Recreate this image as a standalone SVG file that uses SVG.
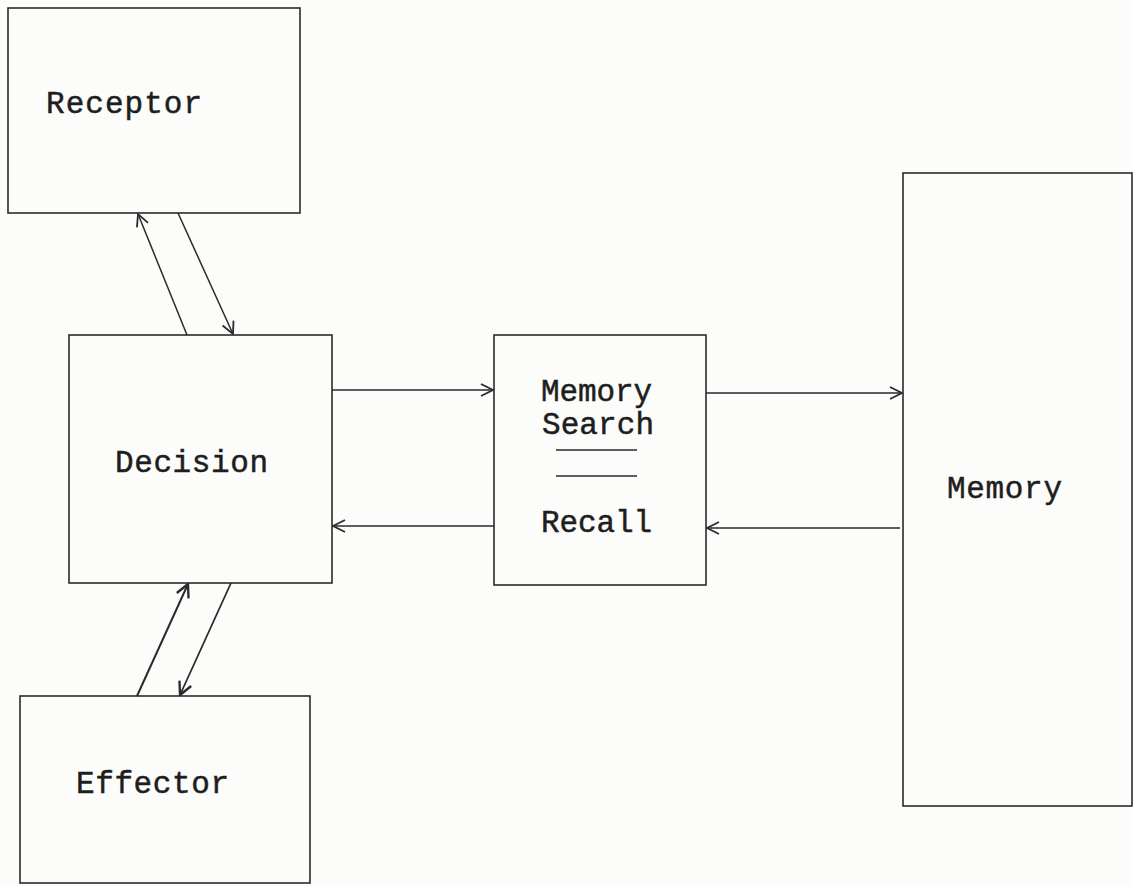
<svg xmlns="http://www.w3.org/2000/svg" width="1133" height="886" viewBox="0 0 1133 886">
<style>
.box{fill:none;stroke:#2a2a2a;stroke-width:1.6}
.lbl{font-family:"Liberation Mono","DejaVu Sans Mono",monospace;font-size:31px;fill:#1e1e1e;stroke:#1e1e1e;stroke-width:0.5}
.con{stroke:#2a2a2a;stroke-width:1.5;fill:none}
</style>
<defs>
<marker id="ah" viewBox="0 0 14 14" refX="13" refY="7" markerWidth="14" markerHeight="14" markerUnits="userSpaceOnUse" orient="auto">
<path d="M1,1 L13,7 L1,13" fill="none" stroke="#2a2a2a" stroke-width="1.8"/>
</marker>
<marker id="ahb" viewBox="0 0 14 14" refX="13" refY="7" markerWidth="15" markerHeight="15" markerUnits="userSpaceOnUse" orient="auto">
<path d="M1,1 L13,7 L1,13" fill="none" stroke="#2a2a2a" stroke-width="2.2"/>
</marker>
</defs>
<rect width="1133" height="886" fill="#fcfcfa"/>
<g id="receptor">
<rect class="box" x="8" y="8" width="292" height="205"/>
<text class="lbl" x="46" y="113" textLength="156">Receptor</text>
</g>
<g id="decision">
<rect class="box" x="69" y="335" width="263" height="248"/>
<text class="lbl" x="115" y="472" textLength="153">Decision</text>
</g>
<g id="memory-search">
<rect class="box" x="494" y="335" width="212" height="250"/>
<text class="lbl" x="541" y="401" textLength="111">Memory</text>
<text class="lbl" x="542" y="434" textLength="112">Search</text>
<line class="con" x1="556" y1="450" x2="637" y2="450"/>
<line class="con" x1="556" y1="476" x2="637" y2="476"/>
<text class="lbl" x="541" y="532" textLength="111">Recall</text>
</g>
<g id="memory">
<rect class="box" x="903" y="173" width="229" height="633"/>
<text class="lbl" x="947" y="498" textLength="115">Memory</text>
</g>
<g id="effector">
<rect class="box" x="20" y="696" width="290" height="187"/>
<text class="lbl" x="76" y="793" textLength="153">Effector</text>
</g>
<g id="connectors">
<line class="con" x1="187" y1="335" x2="138" y2="214" marker-end="url(#ah)"/>
<line class="con" x1="178" y1="213" x2="233" y2="334" marker-end="url(#ah)"/>
<line class="con" x1="137" y1="696" x2="188" y2="584" marker-end="url(#ahb)" style="stroke-width:2"/>
<line class="con" x1="231" y1="583" x2="180" y2="695" marker-end="url(#ahb)" style="stroke-width:1.8"/>
<line class="con" x1="332" y1="390" x2="493" y2="390" marker-end="url(#ah)"/>
<line class="con" x1="494" y1="526" x2="333" y2="526" marker-end="url(#ah)"/>
<line class="con" x1="706" y1="393" x2="902" y2="393" marker-end="url(#ah)"/>
<line class="con" x1="900" y1="528" x2="707" y2="528" marker-end="url(#ah)"/>
</g>
</svg>
